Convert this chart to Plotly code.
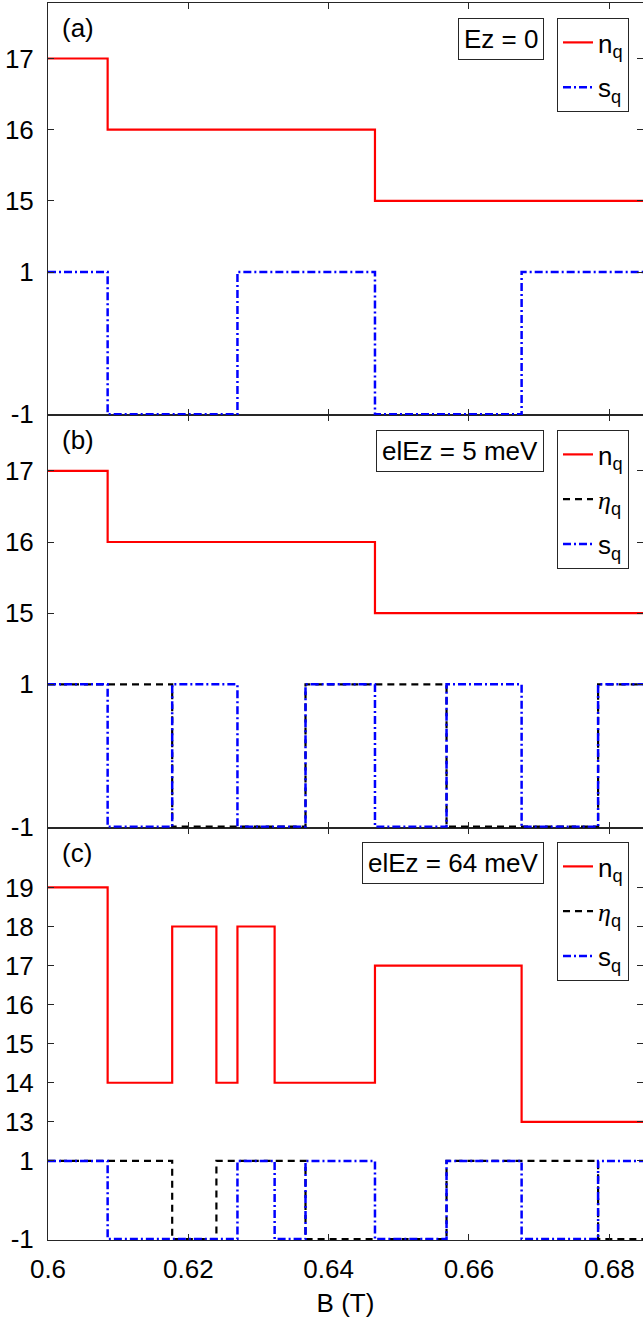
import plotly.graph_objects as go

FONT = "Liberation Sans"
B_MIN, B_MAX = 0.6, 0.6848

# x ticks
x_tickvals = [0.6, 0.62, 0.64, 0.66, 0.68]
x_ticktext = ["0.6", "0.62", "0.64", "0.66", "0.68"]

# Panel (a): Ez = 0
a_n_B = [0.6, 0.6085, 0.6466]
a_n = [17, 16, 15]
a_s_B = [0.6, 0.6085, 0.6270, 0.6466, 0.6675]
a_s = [1, -1, 1, -1, 1]
a_yticks = [-1, 1, 15, 16, 17]

# Panel (b): e|Ez = 5 meV
b_n_B = [0.6, 0.6085, 0.6466]
b_n = [17, 16, 15]
b_eta_B = [0.6, 0.6177, 0.6367, 0.6568, 0.6784]
b_eta = [1, -1, 1, -1, 1]
b_s_B = [0.6, 0.6085, 0.6177, 0.6270, 0.6367, 0.6466, 0.6568, 0.6675, 0.6784]
b_s = [1, -1, 1, -1, 1, -1, 1, -1, 1]
b_yticks = [-1, 1, 15, 16, 17]

# Panel (c): e|Ez = 64 meV
c_n_B = [0.6, 0.6085, 0.6177, 0.6240, 0.6270, 0.6323, 0.6466, 0.6675]
c_n = [19, 14, 18, 14, 18, 14, 17, 13]
c_eta_B = [0.6, 0.6177, 0.6240, 0.6367, 0.6568, 0.6784]
c_eta = [1, -1, 1, -1, 1, -1]
c_s_B = [0.6, 0.6085, 0.6270, 0.6323, 0.6367, 0.6466, 0.6568, 0.6675, 0.6784]
c_s = [1, -1, 1, -1, 1, -1, 1, -1, 1]
c_yticks = [-1, 1, 13, 14, 15, 16, 17, 18, 19]


def pos(v, ticks):
    # broken axis: values -1 and 1 kept, large n values shifted to sit just above 1
    nmin = min(t for t in ticks if t > 1)
    return v if v <= 1 else v - nmin + 2


def ext(xs, ys):
    return list(xs) + [B_MAX], list(ys) + [ys[-1]]


RED = dict(color="#ff0000", width=2.2)
BLK = dict(color="#000000", width=2.2, dash="7px,5px")
BLU = dict(color="#0000ff", width=2.5, dash="8px,3px,2px,3px")

fig = go.Figure()

panels = [
    ("x3", "y3", "legend", [("n", a_n_B, a_n), ("s", a_s_B, a_s)], a_yticks),
    ("x2", "y2", "legend2", [("n", b_n_B, b_n), ("eta", b_eta_B, b_eta), ("s", b_s_B, b_s)], b_yticks),
    ("x", "y", "legend3", [("n", c_n_B, c_n), ("eta", c_eta_B, c_eta), ("s", c_s_B, c_s)], c_yticks),
]
names = {
    "n": "n<sub>q</sub>",
    "eta": "<span style=\"font-family:'Liberation Serif'\"><i>η</i></span><sub>q</sub>",
    "s": "s<sub>q</sub>",
}
styles = {"n": RED, "eta": BLK, "s": BLU}

for xa, ya, lg, series, ticks in panels:
    for key, xs, ys in series:
        X, Y = ext(xs, ys)
        fig.add_trace(go.Scatter(
            x=X, y=[pos(v, ticks) for v in Y], mode="lines", line_shape="hv",
            line=styles[key], name=names[key], xaxis=xa, yaxis=ya,
            legend=lg, legendgroup=lg + key, showlegend=True,
        ))

H_PLOT = 1237.0
axis_common = dict(
    showline=True, linecolor="#262626", linewidth=1, mirror="ticks",
    ticks="inside", ticklen=6, tickcolor="#262626", tickwidth=1,
    showgrid=False, zeroline=False,
    tickfont=dict(family=FONT, size=26, color="#000000"),
)

layout = dict(
    width=643, height=1327,
    margin=dict(l=48, r=0, t=3, b=87),
    paper_bgcolor="white", plot_bgcolor="white",
    font=dict(family=FONT, size=26, color="#000000"),
    showlegend=True,
)

layout["xaxis"] = dict(axis_common, range=[B_MIN, B_MAX], anchor="y", domain=[0, 1],
                       tickvals=x_tickvals, ticktext=x_ticktext, ticklabelstandoff=6,
                       title=dict(text="B (T)", font=dict(family=FONT, size=26), standoff=10))
layout["xaxis2"] = dict(axis_common, range=[B_MIN, B_MAX], anchor="y2", matches="x",
                        tickvals=x_tickvals, showticklabels=False)
layout["xaxis3"] = dict(axis_common, range=[B_MIN, B_MAX], anchor="y3", matches="x",
                        tickvals=x_tickvals, showticklabels=False)

for name, dom, ticks, rng in [
    ("yaxis", [0, 1 / 3], c_yticks, [-1.0255, 9.53]),
    ("yaxis2", [1 / 3, 2 / 3], b_yticks, [-1.014, 4.78]),
    ("yaxis3", [2 / 3, 1], a_yticks, [-1.014, 4.78]),
]:
    layout[name] = dict(axis_common, domain=dom, range=rng, anchor=name.replace("yaxis", "x"),
                        tickvals=[pos(t, ticks) for t in ticks],
                        ticktext=[str(t) for t in ticks], ticklabelstandoff=8)

leg_common = dict(
    xref="paper", yref="paper", xanchor="right", yanchor="top",
    bgcolor="white", bordercolor="#262626", borderwidth=1,
    font=dict(family=FONT, size=26, color="#000000"),
    tracegroupgap=8, itemwidth=30, traceorder="grouped",
)
LEG_X = (629 - 48) / 595.0
tops = [3 + 15, 415 + 15, 827 + 15]
ys = [1 - (t - 3) / H_PLOT for t in tops]
layout["legend"] = dict(leg_common, x=LEG_X, y=ys[0])
layout["legend2"] = dict(leg_common, x=LEG_X, y=ys[1])
layout["legend3"] = dict(leg_common, x=LEG_X, y=ys[2])

fig.update_layout(**layout)

# text boxes
BOX_X = (544 - 48) / 595.0
box_texts = ["Ez = 0", "elEz = 5 meV", "elEz = 64 meV"]
for txt, yv in zip(box_texts, ys):
    fig.add_annotation(text=txt, xref="paper", yref="paper", x=BOX_X, y=yv,
                       xanchor="right", yanchor="top", showarrow=False,
                       bordercolor="#262626", borderwidth=1, borderpad=5, bgcolor="white",
                       font=dict(family=FONT, size=26, color="#000000"))

# panel labels
labels = ["(a)", "(b)", "(c)"]
label_centers = [28, 440, 853]
for lab, yc in zip(labels, label_centers):
    fig.add_annotation(text=lab, xref="paper", yref="paper", x=(60 - 48) / 595.0,
                       y=1 - (yc - 3) / H_PLOT, xanchor="left", yanchor="middle",
                       showarrow=False, font=dict(family=FONT, size=26, color="#000000"))

fig.write_html("out.html")
